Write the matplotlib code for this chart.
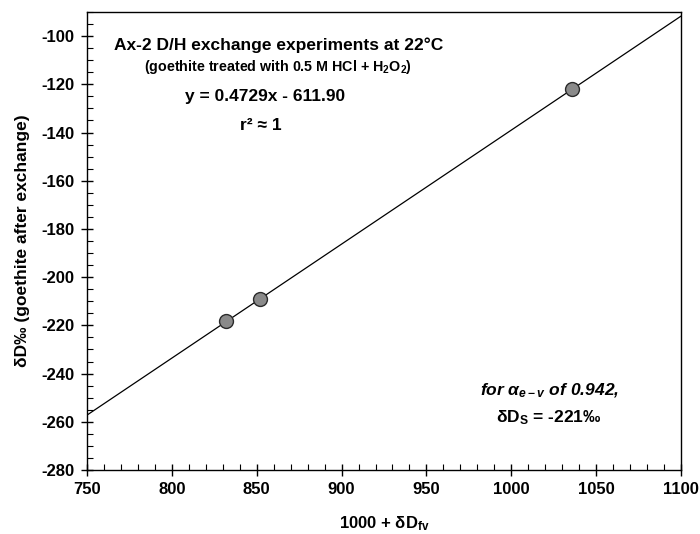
import matplotlib
matplotlib.use("Agg")
import matplotlib.pyplot as plt
from matplotlib.ticker import MultipleLocator
import numpy as np

#-- data -----------------------------------------------------------------------
d_fv = [832, 852, 1036]          # 1000 + dD_fv
d_goethite = [-218, -209, -122]  # dD of goethite after exchange
slope = 0.4729
intercept = -611.90
#------------------------------------------------------------------------------

plt.rcParams['font.family'] = 'Liberation Sans'
plt.rcParams['font.weight'] = 'bold'
plt.rcParams['axes.unicode_minus'] = False
plt.rcParams['mathtext.fontset'] = 'custom'
plt.rcParams['mathtext.rm'] = 'Liberation Sans:bold'
plt.rcParams['mathtext.it'] = 'Liberation Sans:italic:bold'
plt.rcParams['mathtext.bf'] = 'Liberation Sans:bold'

W, H = 700, 534
fig = plt.figure(figsize=(7, 5.34), dpi=100)
ax = fig.add_axes([87/W, 1-470/H, (681-87)/W, (470-12)/H])

#-- regression line over the full x range
xfit = np.array([750, 1100])
ax.plot(xfit, slope*xfit + intercept, color='black', lw=0.9, zorder=1)
ax.plot(d_fv, d_goethite, 'o', ms=10, mfc='#8a8a8a', mec='#2a2a2a', mew=1.0, zorder=2)

ax.set_xlim(750, 1100)
ax.set_ylim(-280, -90)
ax.xaxis.set_major_locator(MultipleLocator(50))
ax.xaxis.set_minor_locator(MultipleLocator(10))
ax.yaxis.set_major_locator(MultipleLocator(20))
ax.yaxis.set_minor_locator(MultipleLocator(5))
ax.tick_params(which='major', direction='inout', length=8, width=1, labelsize=12, pad=5)
ax.tick_params(which='minor', direction='in', length=4, width=0.8)
for lab in ax.get_xticklabels() + ax.get_yticklabels():
    lab.set_fontweight('bold')
for s in ax.spines.values():
    s.set_linewidth(1.0)

ax.set_xlabel(r'1000 + δD$_{\mathregular{fv}}$', fontsize=12, fontweight='bold', labelpad=12)
ax.set_ylabel('δD‰ (goethite after exchange)', fontsize=12.5, fontweight='bold', labelpad=8)

#-- annotations (placed in figure pixels)
def ftext(x, y, s, **kw):
    fig.text(x/W, 1-y/H, s, ha='center', va='center', fontweight='bold', **kw)

ftext(279, 45, 'Ax-2 D/H exchange experiments at 22°C', fontsize=12.5)
ftext(278, 67, r'(goethite treated with 0.5 M HCl + H$_{\mathregular{2}}$O$_{\mathregular{2}}$)', fontsize=10.3)
ftext(265, 97, 'y = 0.4729x - 611.90', fontsize=12.5)
ftext(261, 125, 'r² ≈ 1', fontsize=12.5)
ftext(550, 391, r'for $\alpha_{e-v}$ of 0.942,', fontsize=12.5, style='italic')
ftext(549, 418, r'δD$_{\mathregular{S}}$ = -221‰', fontsize=12.5)

fig.savefig('out.png', dpi=100)
